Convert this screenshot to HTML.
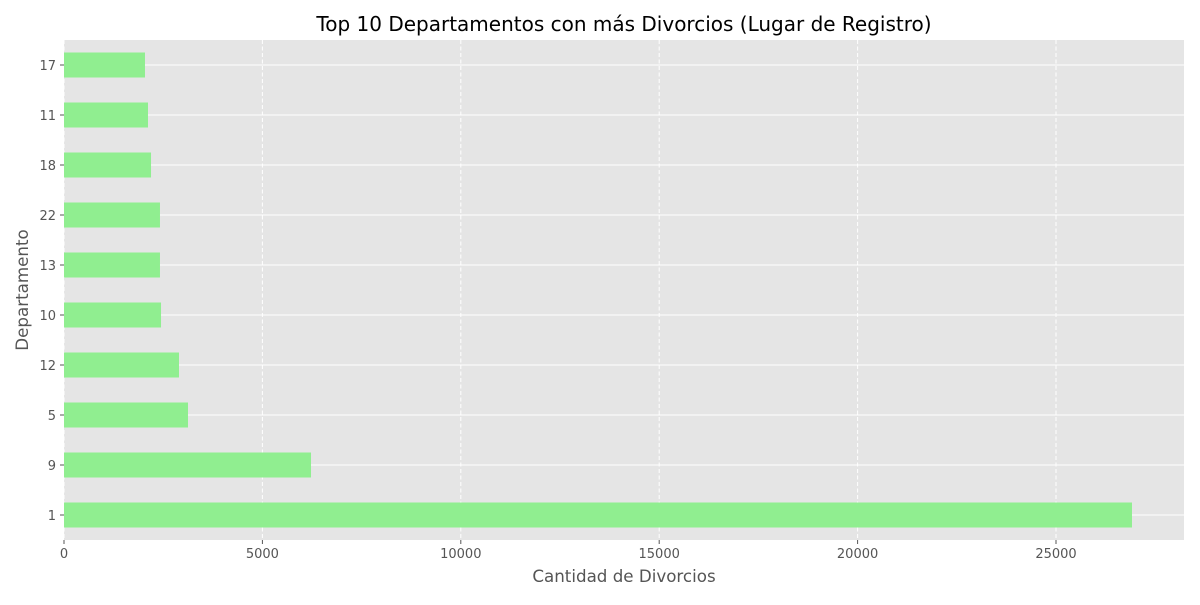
<!DOCTYPE html>
<html><head><meta charset="utf-8"><style>
body{margin:0;background:#fff;}
svg text{font-family:"DejaVu Sans","Liberation Sans",sans-serif;}
</style></head><body>
<svg id="c" width="1200" height="600" xmlns="http://www.w3.org/2000/svg"></svg>
<script>
const categories = ["1","9","5","12","10","13","22","18","11","17"];
const values = [26915, 6225, 3125, 2898, 2445, 2419, 2419, 2193, 2117, 2041];
const xTicks = [0, 5000, 10000, 15000, 20000, 25000];
const svg = document.getElementById('c');
const NS = 'http://www.w3.org/2000/svg';
const L = 64, R = 1184, T = 40, B = 540;
const xMax = 28226;
const x = v => L + v / xMax * (R - L);
const y = i => B - 25 - 50 * i;
function mk(tag, attrs, parent) {
  const e = document.createElementNS(NS, tag);
  for (const k in attrs) e.setAttribute(k, attrs[k]);
  (parent || svg).appendChild(e);
  return e;
}
const bg = mk('rect', {x: L, y: T, width: R - L, height: B - T, fill: '#e5e5e5'});


xTicks.forEach(t => {
  const g = mk('line', {x1: x(t), x2: x(t), y1: T, y2: B, stroke: '#fff', 'stroke-width': 1, 'stroke-dasharray': '4,2.5'});
  
  
  const tk = mk('line', {x1: x(t), x2: x(t), y1: B, y2: B + 4, stroke: '#555'});
  
  
  const tx = mk('text', {x: x(t), y: B + 18, 'text-anchor': 'middle', 'font-size': 13, fill: '#555'});
  tx.textContent = t;
  
  
});
categories.forEach((c, i) => {
  const g = mk('line', {x1: L, x2: R, y1: y(i), y2: y(i), stroke: '#fff', 'stroke-width': 1});
  
  
});
categories.forEach((c, i) => {
  const b = mk('rect', {x: L, y: y(i) - 12.5, width: x(values[i]) - L, height: 25, fill: '#90ee90'});
  
  
  const tk = mk('line', {x1: L - 4, x2: L, y1: y(i), y2: y(i), stroke: '#555'});
  
  
  const tx = mk('text', {x: L - 8, y: y(i) + 5, 'text-anchor': 'end', 'font-size': 13, fill: '#555'});
  tx.textContent = c;
  
  
});
const title = mk('text', {x: 624, y: 31, 'text-anchor': 'middle', 'font-size': 20, fill: '#000'});
title.textContent = 'Top 10 Departamentos con más Divorcios (Lugar de Registro)';


const xt = mk('text', {x: 624, y: 582, 'text-anchor': 'middle', 'font-size': 16.7, fill: '#555'});
xt.textContent = 'Cantidad de Divorcios';


const yt = mk('text', {x: 28, y: 290, 'text-anchor': 'middle', 'font-size': 16.7, fill: '#555', transform: 'rotate(-90 28 290)'});
yt.textContent = 'Departamento';


</script>
</body></html>
